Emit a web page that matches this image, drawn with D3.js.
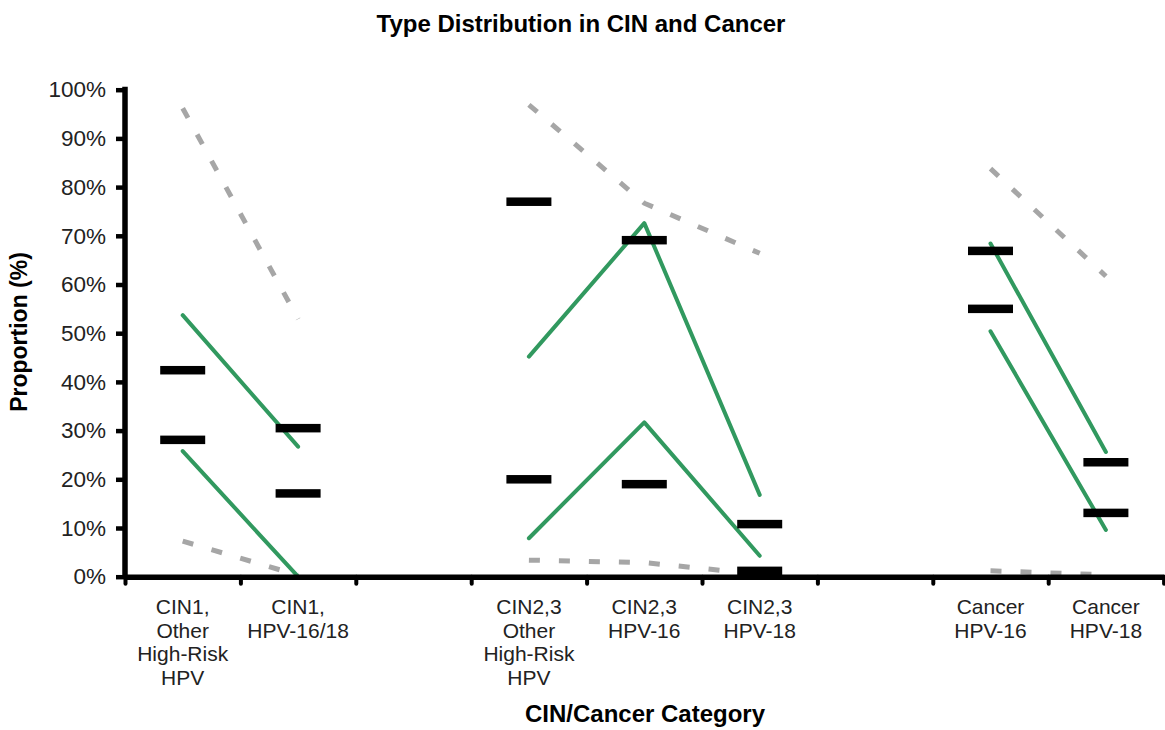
<!DOCTYPE html>
<html>
<head>
<meta charset="utf-8">
<script src="https://cdn.jsdelivr.net/npm/d3@7"></script>
<style>
  body { margin: 0; background: #fff; }
  svg { display: block; font-family: "Liberation Sans", Arial, sans-serif; }
</style>
</head>
<body>
<div id="chart"></div>
<script>
// Category slots (empty strings are the gaps between groups)
const categories = [
    ["CIN1,", "Other", "High-Risk", "HPV"],
    ["CIN1,", "HPV-16/18"],
    [],
    ["CIN2,3", "Other", "High-Risk", "HPV"],
    ["CIN2,3", "HPV-16"],
    ["CIN2,3", "HPV-18"],
    [],
    ["Cancer", "HPV-16"],
    ["Cancer", "HPV-18"]
];

// Black bars (point values, %)
const barHigh = [42.4, 30.5, null, 77.0, 69.1, 10.8, null, 66.9, 23.5];
const barLow  = [28.1, 17.1, null, 20.0, 19.0, 1.2, null, 55.0, 13.1];

// Green solid lines
const greenUpper = [53.7, 26.7, null, 45.2, 72.6, 16.8, null, 68.4, 25.6];
const greenLower = [25.8, 0.0, null, 7.9, 31.7, 4.3, null, 50.4, 9.6];

// Grey dashed lines
const greyUpper = [96.2, 52.9, null, 96.9, 76.7, 66.4, null, 83.8, 61.7];
const greyLower = [7.3, 0.3, null, 3.4, 2.9, 0.5, null, 1.2, 0.4];

const yTicks = d3.range(0, 101, 10);

const W = 1165, H = 730;
const svg = d3.select("#chart").append("svg")
    .attr("width", W)
    .attr("height", H);

// Scales
const xIdx = d3.scaleLinear().domain([0, categories.length]).range([125, 1163.6]);
const xc = i => xIdx(i + 0.5);
const y = d3.scaleLinear().domain([0, 100]).range([576.7, 89.7]);

// Title
svg.append("text")
    .attr("x", 581).attr("y", 32)
    .attr("text-anchor", "middle")
    .style("font-size", "24px").style("font-weight", "bold")
    .text("Type Distribution in CIN and Cancer");

// Grey dashed lines
const line = d3.line()
    .defined(d => d.v != null)
    .x(d => xc(d.i))
    .y(d => y(d.v));

function series(arr) {
    return arr.map((v, i) => ({ i: i, v: v }));
}

[greyUpper, greyLower].forEach(arr => {
    svg.append("path")
        .attr("d", line(series(arr)))
        .attr("fill", "none")
        .attr("stroke", "#a6a6a6")
        .attr("stroke-width", 5)
        .attr("stroke-dasharray", "11,19");
});

// Green lines
[greenUpper, greenLower].forEach(arr => {
    svg.append("path")
        .attr("d", line(series(arr)))
        .attr("fill", "none")
        .attr("stroke", "#31995f")
        .attr("stroke-width", 4)
        .attr("stroke-linecap", "round")
        .attr("stroke-linejoin", "round");
});

// Black bars
const barW = 45, barH = 8.5;
[barHigh, barLow].forEach(arr => {
    svg.append("g").selectAll("rect")
        .data(series(arr).filter(d => d.v != null))
        .enter().append("rect")
        .attr("x", d => xc(d.i) - barW / 2)
        .attr("y", d => y(d.v) - barH / 2)
        .attr("width", barW)
        .attr("height", barH)
        .attr("fill", "#000");
});

// Y axis
const yAxis = svg.append("g")
    .attr("transform", "translate(125,0)")
    .call(d3.axisLeft(y).tickValues(yTicks).tickFormat(d => d + "%")
        .tickSize(9).tickSizeOuter(0).tickPadding(10));
yAxis.select(".domain").attr("stroke", "#000").attr("stroke-width", 5.5)
    .attr("d", `M0,${y(0) + 2}V${y(100) - 3}`);
yAxis.selectAll(".tick line").attr("stroke", "#000").attr("stroke-width", 4.5);
yAxis.selectAll(".tick text")
    .attr("fill", "#222")
    .style("font-size", "22.5px")
    .style("font-family", "'Liberation Sans', Arial, sans-serif");

// X axis (ticks between categories)
const xAxis = svg.append("g")
    .attr("transform", `translate(0,${y(0)})`)
    .call(d3.axisBottom(xIdx).tickValues(d3.range(0, categories.length + 1))
        .tickFormat("").tickSize(7).tickSizeOuter(0));
xAxis.select(".domain").attr("stroke", "#000").attr("stroke-width", 5.5);
xAxis.selectAll(".tick line").attr("stroke", "#000").attr("stroke-width", 4)
    .attr("stroke-linecap", "round");

// Category labels
const labels = svg.append("g");
categories.forEach((lines, i) => {
    const t = labels.append("text")
        .attr("text-anchor", "middle")
        .attr("fill", "#222")
        .style("font-size", "21px");
    lines.forEach((s, k) => {
        t.append("tspan")
            .attr("x", xc(i))
            .attr("y", 614 + k * 23.7)
            .text(s);
    });
});

// Axis titles
svg.append("text")
    .attr("transform", "translate(27,332) rotate(-90)")
    .attr("text-anchor", "middle")
    .style("font-size", "23px").style("font-weight", "bold")
    .text("Proportion (%)");

svg.append("text")
    .attr("x", 645).attr("y", 722)
    .attr("text-anchor", "middle")
    .style("font-size", "24px").style("font-weight", "bold")
    .text("CIN/Cancer Category");
</script>
</body>
</html>
